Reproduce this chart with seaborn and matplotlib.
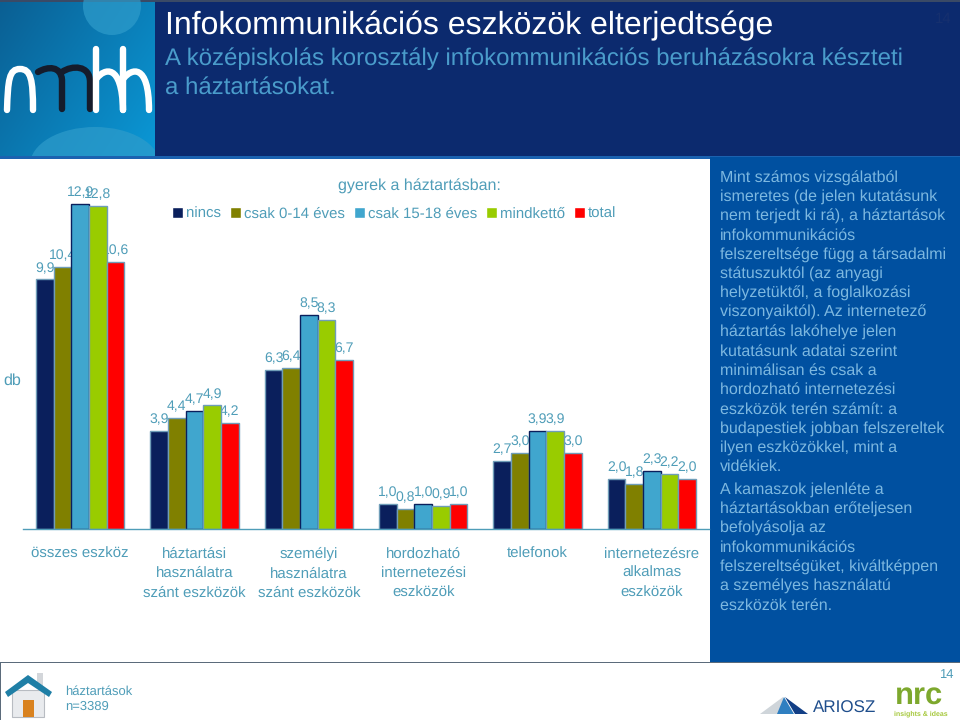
import numpy as np
import pandas as pd
import seaborn as sns
import matplotlib
matplotlib.use('Agg')
import matplotlib.pyplot as plt
from matplotlib.patches import Rectangle, Polygon, Ellipse, PathPatch
from matplotlib.path import Path

# data
categories = ['összes eszköz', 'háztartási\nhasználatra\nszánt eszközök', 'személyi\nhasználatra\nszánt eszközök',
              'hordozható\ninternetezési\neszközök', 'telefonok', 'internetezésre\nalkalmas\neszközök']
series_names = ['nincs', 'csak 0-14 éves', 'csak 15-18 éves', 'mindkettő', 'total']
nincs = [9.9, 3.9, 6.3, 1.0, 2.7, 2.0]
csak_0_14 = [10.4, 4.4, 6.4, 0.8, 3.0, 1.8]
csak_15_18 = [12.9, 4.7, 8.5, 1.0, 3.9, 2.3]
mindketto = [12.8, 4.9, 8.3, 0.9, 3.9, 2.2]
total = [10.6, 4.2, 6.7, 1.0, 3.0, 2.0]

colors = ['#0A1F5C', '#808000', '#40A6CE', '#99CC00', '#FF0000']
edges = ['#6F9DB8', '#6F9DB8', '#0A1F5C', '#6F9DB8', '#6F9DB8']
teal = '#4F9DB8'

para1 = ['Mint számos vizsgálatból', 'ismeretes (de jelen kutatásunk', 'nem terjedt ki rá), a háztartások',
         'infokommunikációs', 'felszereltsége függ a társadalmi', 'státuszuktól (az anyagi',
         'helyzetüktől, a foglalkozási', 'viszonyaiktól). Az internetező', 'háztartás lakóhelye jelen',
         'kutatásunk adatai szerint', 'minimálisan és csak a', 'hordozható internetezési',
         'eszközök terén számít: a', 'budapestiek jobban felszereltek', 'ilyen eszközökkel, mint a', 'vidékiek.']
para2 = ['A kamaszok jelenléte a', 'háztartásokban erőteljesen', 'befolyásolja az', 'infokommunikációs',
         'felszereltségüket, kiváltképpen', 'a személyes használatú', 'eszközök terén.']

df = pd.DataFrame({
    'kategoria': categories * 5,
    'csoport': np.repeat(series_names, 6),
    'db': nincs + csak_0_14 + csak_15_18 + mindketto + total,
})

sns.set_theme(style='white')
plt.rcParams['font.family'] = ['Liberation Sans', 'DejaVu Sans']
plt.rcParams['text.hinting'] = 'none'
plt.rcParams['text.hinting_factor'] = 1

fig = plt.figure(figsize=(9.6, 7.2), dpi=100, facecolor='white')

# page decoration, in pixel coordinates
bg = fig.add_axes([0, 0, 1, 1], zorder=0)
bg.set_xlim(0, 960)
bg.set_ylim(720, 0)
grad = np.linspace(0, 1, 200)[None, :] * 0.6 + np.linspace(0, 1, 200)[:, None] * 0.4
bg.imshow(grad, extent=[0, 155, 157, 0], aspect='auto',
          cmap=matplotlib.colors.LinearSegmentedColormap.from_list('l', ['#0A5F93', '#0B98D6']))
bg.add_patch(Rectangle((155, 0), 805, 157, color='#0C2A6E', lw=0))
bg.add_patch(Rectangle((0, 0), 960, 1.5, color='#3A4A66', lw=0))
bg.add_patch(Rectangle((0, 156), 960, 2.5, color='#1B62B0', lw=0))
bg.add_patch(Rectangle((710, 157), 250, 505, color='#0050A0', lw=0))
bg.add_patch(Rectangle((0, 662), 960, 1.3, color='#5B6B7B', lw=0))
bg.add_patch(Rectangle((0, 662), 1, 58, color='#5B6B7B', lw=0))

# logo
logo_box = Rectangle((0, 0), 155, 156, transform=bg.transData)
for el in [Ellipse((112, 6), 58, 58, color='#2F9CCB', lw=0, alpha=0.7),
           Ellipse((95, 165), 130, 76, color='#2F9CCB', lw=0, alpha=0.7)]:
    bg.add_patch(el)
    el.set_clip_path(logo_box)


def stroke(pts, col, lw=4.6):
    codes = [Path.MOVETO] + [Path.CURVE4] * (len(pts) - 1)
    bg.add_patch(PathPatch(Path(pts, codes), fc='none', ec=col, lw=lw, capstyle='round'))


stroke([(7, 110), (8, 80), (9, 69), (20, 69), (31, 69), (33, 80), (33, 110)], 'white')
stroke([(38, 72), (48, 66), (61, 66), (62, 80), (62, 90), (62, 100), (62, 109)], '#151C2C')
stroke([(62, 72), (72, 65), (90, 65), (90, 82), (90, 90), (90, 100), (90, 109)], '#151C2C')
bg.plot([96, 96], [49, 110], color='white', lw=4.6, solid_capstyle='round')
stroke([(97, 78), (104, 69), (122, 62), (123, 110)], 'white')
bg.plot([123, 123], [49, 110], color='white', lw=4.6, solid_capstyle='round')
stroke([(124, 78), (131, 69), (149, 62), (149, 110)], 'white')

# house icon
bg.add_patch(Rectangle((37, 673), 6, 14, color='#D3D6DA', lw=0))
bg.add_patch(Rectangle((12, 690), 32, 27, fc='#E9EBEE', ec='#B8BCC2', lw=0.8))
bg.add_patch(Rectangle((23, 700), 11, 17, color='#D9821F', lw=0))
bg.add_patch(Polygon([(28, 675), (52, 692), (49, 697), (28, 683), (8, 697), (5, 692)], color='#1F7FA6', lw=0))

# ariosz logo
bg.add_patch(Polygon([(760, 714), (783, 697), (790, 714)], color='#CFD5DA', lw=0))
bg.add_patch(Polygon([(777, 714), (784, 697), (794, 714)], color='#2F7FC1', lw=0))
bg.add_patch(Polygon([(785, 697), (808, 714), (795, 714)], color='#123F86', lw=0))

bg.text(165, 26, 'Infokommunikációs eszközök elterjedtsége', color='white', fontsize=23.2, va='center')
bg.text(165, 59, 'A középiskolás korosztály infokommunikációs beruházásokra készteti', color='#4A9CCB',
        fontsize=17.5, va='center')
bg.text(165, 88, 'a háztartásokat.', color='#4A9CCB', fontsize=17.5, va='center')
bg.text(952, 19, '14', color='#16306E', fontsize=10.5, ha='right', va='center')
bg.text(953, 675, '14', color=teal, fontsize=9, ha='right', va='center')
bg.text(65, 692, 'háztartások', color=teal, fontsize=9.4, va='center')
bg.text(65, 707, 'n=3389', color=teal, fontsize=9.4, va='center')
bg.text(813, 708, 'ARIOSZ', color='#1F4E8C', fontsize=12, va='center')
bg.text(895, 705, 'nrc', color='#7DA82D', fontsize=22, fontweight='bold', va='baseline')
bg.text(894, 714, 'insights & ideas', color='#A6C83C', fontsize=5.4, fontweight='bold', va='center')
bg.text(419, 186, 'gyerek a háztartásban:', color=teal, fontsize=11.8, ha='center', va='center')

for i, line in enumerate(para1):
    bg.text(720, 178 + i * 19.27, line, color='#7DB8E0', fontsize=11.7, va='center')
for i, line in enumerate(para2):
    bg.text(720, 490 + i * 19.27, line, color='#7DB8E0', fontsize=11.7, va='center')

bg.set_xlim(0, 960)
bg.set_ylim(720, 0)
bg.axis('off')

# chart
ax = fig.add_axes([23 / 960, (720 - 529) / 720, 686 / 960, 369 / 720], zorder=1)
ax.patch.set_visible(False)
sns.barplot(data=df, x='kategoria', y='db', hue='csoport', hue_order=series_names, palette=colors,
            width=0.77, gap=0, saturation=1, errorbar=None, ax=ax)
ax.set_xlim(-0.5, 5.5)
ax.set_ylim(0, 14.64)

for cont, ec in zip(ax.containers, edges):
    for bar in cont:
        bar.set_edgecolor(ec)
        bar.set_linewidth(1)
    ax.bar_label(cont, labels=[f'{b.get_height():.1f}'.replace('.', ',') for b in cont], padding=3.5,
                 color=teal, fontsize=10, zorder=0.5)

sns.despine(ax=ax, left=True)
ax.spines['bottom'].set_color(teal)
ax.spines['bottom'].set_linewidth(1)
ax.set_yticks([])
ax.set_xlabel('')
ax.set_ylabel('db', color=teal, fontsize=11.5, rotation=0, va='center', ha='center')
ax.yaxis.set_label_coords(-11 / 686, 148 / 369)
ax.tick_params(axis='x', length=0, pad=13, labelcolor=teal, labelsize=10.8)
for lab in ax.get_xticklabels():
    lab.set_linespacing(1.5)

ax.legend(ncol=5, loc='center left', bbox_to_anchor=(149 / 686, 315 / 369), frameon=False, fontsize=11.05,
          labelcolor=teal, handlelength=0.72, handleheight=0.72, handletextpad=0.22, columnspacing=0.55,
          borderpad=0, borderaxespad=0)

fig.savefig('out.png', dpi=100)
